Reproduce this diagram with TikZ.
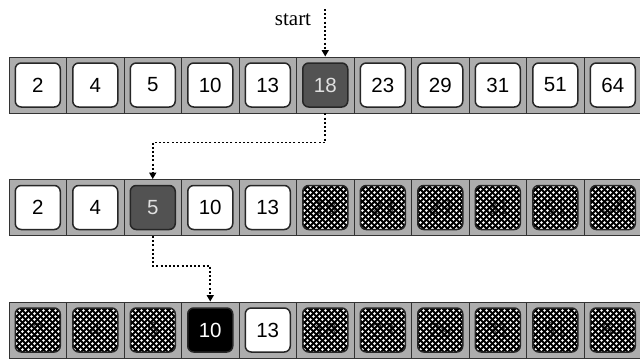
\documentclass[tikz,border=0pt]{standalone}
\usepackage{fontspec}
\setmainfont{Liberation Serif}
\newfontfamily\numfont{Liberation Sans}
\usetikzlibrary{arrows.meta,patterns.meta}

\tikzdeclarepattern{name=bigdots, type=uncolored,
  bounding box={(0pt,0pt) and (6.4pt,6.4pt)}, tile size={(6.4pt,6.4pt)},
  code={\fill (1.6pt,1.6pt) circle (1.55pt); \fill (4.8pt,4.8pt) circle (1.55pt);}}

\begin{document}
\begin{tikzpicture}[x=1pt,y=1pt,
        cell/.style={rectangle,minimum width=57.5pt,minimum height=56pt,
            inner sep=0pt,fill=black!32,draw=black!80,line width=0.9pt},
        box/.style={rectangle,rounded corners=6pt,minimum width=45pt,
            minimum height=44pt,inner sep=0pt,line width=1.5pt,draw=black!85,
            font=\numfont\fontsize{20.5}{20.5}\selectfont},
        plain/.style={box,fill=white},
        pick/.style={box,fill=black!68,text=black!12},
        found/.style={box,fill=black,text=white},
        gone/.style={box,preaction={fill=black},pattern=bigdots,
            pattern color=white,text=black,text opacity=0.7},
        flow/.style={line width=1.8pt,dash pattern=on 2pt off 2.2pt,
            -{Triangle[length=6.5pt,width=7pt]}}]
\useasboundingbox (0,0) rectangle (640,360);

% row 1: whole array, start in the middle
\foreach \v/\st [count=\i from 0] in {2/plain,4/plain,5/plain,10/plain,13/plain,18/pick,23/plain,29/plain,31/plain,51/plain,64/plain}{
    \node[cell] (r1c\i) at ({37.75+57.5*\i},275) {};
    \node[\st] (b1c\i) at (r1c\i) {\v};
}
% row 2: right half dropped
\foreach \v/\st [count=\i from 0] in {2/plain,4/plain,5/pick,10/plain,13/plain,18/gone,23/gone,29/gone,31/gone,51/gone,64/gone}{
    \node[cell] (r2c\i) at ({37.75+57.5*\i},152.5) {};
    \node[\st] (b2c\i) at (r2c\i) {\v};
}
% row 3: found it
\foreach \v/\st [count=\i from 0] in {2/gone,4/gone,5/gone,10/found,13/plain,18/gone,23/gone,29/gone,31/gone,51/gone,64/gone}{
    \node[cell] (r3c\i) at ({37.75+57.5*\i},30) {};
    \node[\st] (b3c\i) at (r3c\i) {\v};
}

\coordinate (top) at (r1c5.north |- 0,351);
\node[font=\fontsize{21}{21}\selectfont] (start) at (293,340) {start};
\draw[flow] (top) -- (r1c5.north);

\draw[flow] (r1c5.south) -- ([yshift=-29pt]r1c5.south) -| (r2c2.north);
\draw[flow] (r2c2.south) -- ([yshift=-30pt]r2c2.south) -| (r3c3.north);

\end{tikzpicture}
\end{document}
